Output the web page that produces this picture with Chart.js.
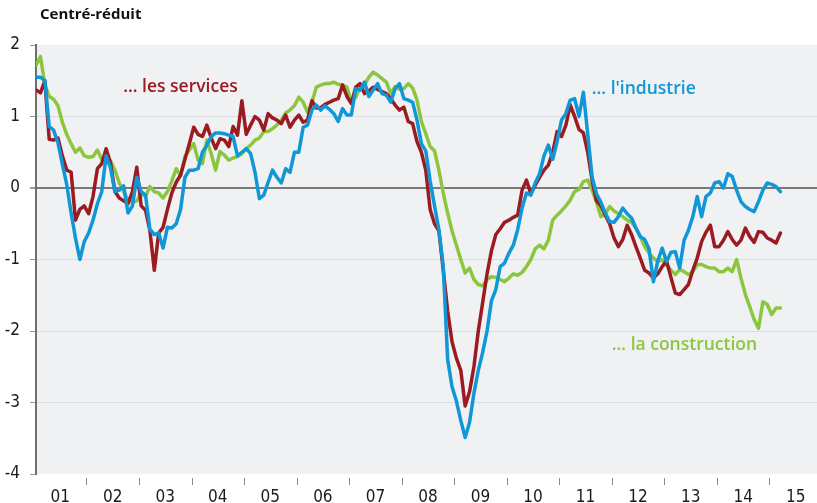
<!DOCTYPE html>
<html><head><meta charset="utf-8">
<script src="https://cdn.jsdelivr.net/npm/chart.js@4"></script>
<style>html,body{margin:0;padding:0;background:#fff;}canvas{display:block;}</style>
</head><body>
<canvas id="c" width="817" height="503"></canvas>
<script>
const startYear = 2001;
const yearLabels = ['01','02','03','04','05','06','07','08','09','10','11','12','13','14','15'];
const yTickValues = [2, 1, 0, -1, -2, -3, -4];
const titleText = 'Centré-réduit';
const seriesNames = ["… l'industrie", '… les services', '… la construction'];

// monthly values, Jan 2001 .. Mar 2015
const services = [
1.37, 1.33, 1.50, 0.68, 0.67, 0.70, 0.45, 0.25, 0.22, -0.45, -0.30, -0.25,
-0.36, -0.12, 0.27, 0.34, 0.55, 0.35, -0.05, -0.14, -0.18, -0.22, -0.05, 0.29,
-0.25, -0.31, -0.60, -1.15, -0.63, -0.55, -0.30, -0.07, 0.08, 0.18, 0.40, 0.62,
0.85, 0.75, 0.72, 0.88, 0.70, 0.55, 0.69, 0.67, 0.58, 0.86, 0.74, 1.22,
0.75, 0.88, 1.00, 0.95, 0.81, 1.04, 0.98, 0.95, 0.90, 1.02, 0.85, 0.95,
1.02, 0.92, 0.95, 1.22, 1.12, 1.12, 1.17, 1.20, 1.23, 1.25, 1.44, 1.28,
1.18, 1.41, 1.46, 1.32, 1.36, 1.41, 1.38, 1.35, 1.32, 1.25, 1.16, 1.09,
1.13, 0.93, 0.90, 0.65, 0.50, 0.25, -0.30, -0.50, -0.60, -1.15, -1.72, -2.15,
-2.38, -2.55, -3.05, -2.85, -2.50, -2.00, -1.60, -1.20, -0.88, -0.65, -0.57, -0.48,
-0.45, -0.41, -0.38, -0.03, 0.11, -0.08, 0.04, 0.15, 0.25, 0.32, 0.50, 0.79,
0.72, 0.88, 1.16, 1.00, 0.82, 0.77, 0.50, 0.10, -0.18, -0.25, -0.38, -0.50,
-0.70, -0.82, -0.72, -0.52, -0.65, -0.82, -0.98, -1.15, -1.19, -1.26, -1.20, -1.10,
-1.02, -1.25, -1.47, -1.49, -1.42, -1.35, -1.15, -0.98, -0.75, -0.62, -0.52, -0.82,
-0.82, -0.73, -0.61, -0.72, -0.80, -0.73, -0.56, -0.68, -0.76, -0.61, -0.62, -0.70,
-0.73, -0.77, -0.63];

const industry = [
1.55, 1.55, 1.50, 0.86, 0.81, 0.63, 0.33, 0.05, -0.35, -0.70, -1.00, -0.75,
-0.63, -0.45, -0.22, -0.05, 0.45, 0.28, -0.05, -0.03, 0.03, -0.35, -0.25, 0.15,
-0.05, -0.10, -0.58, -0.65, -0.63, -0.84, -0.55, -0.56, -0.50, -0.30, 0.15, 0.25,
0.25, 0.27, 0.50, 0.60, 0.72, 0.77, 0.77, 0.76, 0.74, 0.72, 0.45, 0.50,
0.55, 0.48, 0.22, -0.15, -0.10, 0.08, 0.25, 0.15, 0.07, 0.27, 0.22, 0.50,
0.50, 0.85, 0.88, 1.09, 1.16, 1.09, 1.15, 1.10, 1.04, 0.93, 1.11, 1.02,
1.02, 1.39, 1.37, 1.48, 1.28, 1.37, 1.46, 1.32, 1.30, 1.20, 1.39, 1.46,
1.25, 1.23, 1.20, 0.95, 0.62, 0.52, 0.10, -0.25, -0.58, -1.10, -2.40, -2.78,
-2.98, -3.25, -3.49, -3.28, -2.87, -2.55, -2.30, -2.00, -1.58, -1.42, -1.10, -1.05,
-0.91, -0.80, -0.58, -0.28, -0.07, -0.10, 0.07, 0.20, 0.45, 0.60, 0.40, 0.65,
0.95, 1.04, 1.23, 1.25, 1.00, 1.34, 0.75, 0.15, -0.08, -0.20, -0.35, -0.47,
-0.48, -0.40, -0.28, -0.36, -0.42, -0.56, -0.68, -0.72, -0.85, -1.31, -1.02, -0.84,
-1.03, -0.90, -0.89, -1.12, -0.73, -0.59, -0.40, -0.12, -0.40, -0.12, -0.07, 0.07,
0.09, 0.00, 0.20, 0.16, -0.03, -0.19, -0.26, -0.30, -0.33, -0.19, -0.03, 0.07,
0.05, 0.02, -0.05];

const construction = [
1.72, 1.84, 1.45, 1.28, 1.24, 1.15, 0.92, 0.75, 0.62, 0.50, 0.56, 0.45,
0.43, 0.44, 0.53, 0.40, 0.44, 0.38, 0.25, 0.07, -0.05, -0.17, -0.20, -0.18,
-0.08, -0.12, 0.02, -0.05, -0.07, -0.14, -0.05, 0.10, 0.27, 0.17, 0.44, 0.53,
0.62, 0.39, 0.34, 0.67, 0.48, 0.25, 0.51, 0.46, 0.39, 0.42, 0.44, 0.48,
0.55, 0.60, 0.67, 0.70, 0.79, 0.79, 0.83, 0.88, 0.95, 1.05, 1.09, 1.15,
1.27, 1.20, 1.06, 1.20, 1.41, 1.44, 1.46, 1.46, 1.48, 1.45, 1.44, 1.41,
1.20, 1.27, 1.41, 1.44, 1.55, 1.62, 1.58, 1.53, 1.48, 1.32, 1.42, 1.38,
1.39, 1.46, 1.40, 1.23, 0.93, 0.76, 0.58, 0.52, 0.25, -0.07, -0.35, -0.60,
-0.80, -1.00, -1.19, -1.12, -1.28, -1.35, -1.37, -1.28, -1.24, -1.25, -1.28, -1.31,
-1.26, -1.20, -1.22, -1.18, -1.10, -1.00, -0.85, -0.80, -0.85, -0.73, -0.45, -0.38,
-0.32, -0.25, -0.17, -0.05, -0.02, 0.09, 0.11, -0.03, -0.20, -0.40, -0.36, -0.26,
-0.32, -0.36, -0.40, -0.45, -0.48, -0.56, -0.68, -0.82, -0.91, -0.98, -1.03, -1.00,
-1.08, -1.15, -1.21, -1.14, -1.17, -1.21, -1.17, -1.07, -1.07, -1.10, -1.12, -1.12,
-1.17, -1.17, -1.12, -1.17, -1.00, -1.26, -1.49, -1.66, -1.84, -1.96, -1.59, -1.63,
-1.77, -1.68, -1.68];

const colors = { industry: '#0f97d7', services: '#9b1b22', construction: '#8cc63f' };

function toPoints(arr) { return arr.map((v, i) => ({ x: startYear + (i + 0.5) / 12, y: v })); }

const labelFont = '"Liberation Sans Narrow", "DejaVu Sans Condensed", "Open Sans", sans-serif';
const annoFont = '600 17.5px "Open Sans", "Noto Sans", sans-serif';

const deco = {
  id: 'deco',
  beforeDraw(chart) {
    const { ctx, chartArea: a } = chart;
    ctx.save();
    ctx.fillStyle = '#ffffff';
    ctx.fillRect(0, 0, chart.width, chart.height);
    ctx.fillStyle = '#f0f1f3';
    ctx.fillRect(a.left, a.top, a.right - a.left, a.bottom - a.top);
    ctx.restore();
  },
  afterDraw(chart) {
    const { ctx, chartArea: a, scales } = chart;
    const x = scales.x, y = scales.y;
    ctx.save();
    ctx.strokeStyle = '#8a8a8a';
    ctx.lineWidth = 1;
    for (let k = 1; k < yearLabels.length; k++) {
      const px = Math.round(x.getPixelForValue(startYear + k)) + 0.5;
      ctx.beginPath();
      ctx.moveTo(px, a.bottom + 4);
      ctx.lineTo(px, a.bottom + 11);
      ctx.stroke();
    }
    ctx.fillStyle = '#111';
    ctx.font = 'bold 15px "Open Sans", sans-serif';
    ctx.textBaseline = 'middle';
    ctx.textAlign = 'left';
    ctx.fillText(titleText, 40, 15);

    ctx.font = annoFont;
    const annos = [
      { text: seriesNames[1], color: colors.services, xv: 2002.7, yv: 1.41 },
      { text: seriesNames[0], color: colors.industry, xv: 2011.62, yv: 1.38 },
      { text: seriesNames[2], color: colors.construction, xv: 2012.0, yv: -2.2 }
    ];
    annos.forEach(o => {
      ctx.fillStyle = o.color;
      ctx.fillText(o.text, x.getPixelForValue(o.xv), y.getPixelForValue(o.yv));
    });
    ctx.restore();
  }
};

new Chart(document.getElementById('c'), {
  type: 'line',
  data: {
    datasets: [
      { label: seriesNames[0], data: toPoints(industry), borderColor: colors.industry },
      { label: seriesNames[1], data: toPoints(services), borderColor: colors.services },
      { label: seriesNames[2], data: toPoints(construction), borderColor: colors.construction }
    ].map(d => Object.assign(d, { borderWidth: 3.5, pointRadius: 0, tension: 0, fill: false, borderJoinStyle: 'round', borderCapStyle: 'round' }))
  },
  options: {
    responsive: false,
    devicePixelRatio: 1,
    animation: false,
    layout: { padding: { top: 45, left: 0, right: 0, bottom: 0 } },
    plugins: { legend: { display: false }, tooltip: { enabled: false }, title: { display: false } },
    scales: {
      x: {
        type: 'linear',
        min: 2001.04,
        max: 2015.905,
        afterBuildTicks(scale) { scale.ticks = yearLabels.map((l, i) => ({ value: startYear + i + 0.5 })); },
        afterFit(scale) { scale.height = 29; },
        grid: { display: false },
        border: { display: false },
        ticks: {
          autoSkip: false, maxRotation: 0, padding: 5,
          color: '#1a1a1a',
          font: { family: labelFont, size: 17 },
          callback(v) { return yearLabels[Math.round(v - 0.5) - startYear]; }
        }
      },
      y: {
        min: -4, max: 2,
        afterBuildTicks(scale) { scale.ticks = yTickValues.map(v => ({ value: v })); },
        afterFit(scale) { scale.width = 36; },
        border: { display: true, color: '#6e6e6e', width: 2 },
        grid: {
          color(c) { const v = c.tick.value; if (v === 0) return '#7a7a7a'; if (v === 2 || v === -4) return 'rgba(0,0,0,0)'; return '#dcdde0'; },
          lineWidth(c) { return c.tick.value === 0 ? 2 : 1; },
          drawTicks: true, tickLength: 6, tickColor: '#9a9a9a'
        },
        ticks: {
          padding: 10,
          color: '#1a1a1a',
          font: { family: labelFont, size: 17 },
          callback(v) { return String(v); }
        }
      }
    }
  },
  plugins: [deco]
});
</script>
</body></html>
